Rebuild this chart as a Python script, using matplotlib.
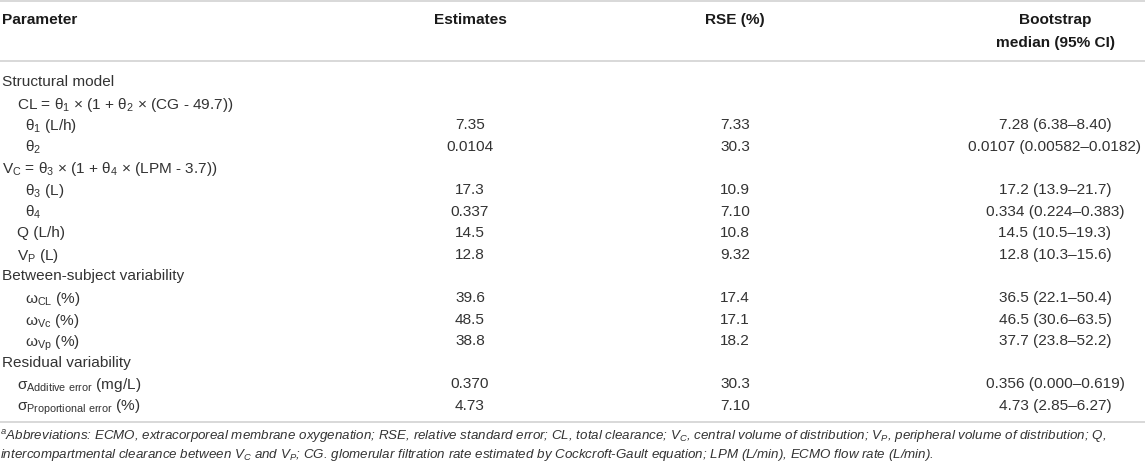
#!/usr/bin/env python3
"""Parameter estimates table (final PK model) drawn with matplotlib."""

import matplotlib
matplotlib.use("Agg")
import matplotlib.pyplot as plt

plt.rcParams["font.family"] = ["Liberation Sans", "DejaVu Sans"]
plt.rcParams["mathtext.default"] = "regular"

W, H = 1145, 467

HEADERS = ["Parameter", "Estimates", "RSE (%)", "Bootstrap\nmedian (95% CI)"]

PARAMS = [
    "Structural model",
    "CL = θ$_1$ × (1 + θ$_2$ × (CG - 49.7))",
    "θ$_1$ (L/h)",
    "θ$_2$",
    "V$_C$ = θ$_3$ × (1 + θ$_4$ × (LPM - 3.7))",
    "θ$_3$ (L)",
    "θ$_4$",
    "Q (L/h)",
    "V$_P$ (L)",
    "Between-subject variability",
    "ω$_{CL}$ (%)",
    "ω$_{Vc}$ (%)",
    "ω$_{Vp}$ (%)",
    "Residual variability",
    r"σ$_{Additive\ error}$ (mg/L)",
    r"σ$_{Proportional\ error}$ (%)",
]
INDENT = [0, 1, 2, 2, 0, 2, 2, 1, 1, 0, 2, 2, 2, 0, 1, 1]

ESTIMATES = ["", "", "7.35", "0.0104", "", "17.3", "0.337", "14.5", "12.8",
             "", "39.6", "48.5", "38.8", "", "0.370", "4.73"]
RSE = ["", "", "7.33", "30.3", "", "10.9", "7.10", "10.8", "9.32",
       "", "17.4", "17.1", "18.2", "", "30.3", "7.10"]
BOOTSTRAP = ["", "", "7.28 (6.38–8.40)", "0.0107 (0.00582–0.0182)", "",
             "17.2 (13.9–21.7)", "0.334 (0.224–0.383)", "14.5 (10.5–19.3)",
             "12.8 (10.3–15.6)", "", "36.5 (22.1–50.4)", "46.5 (30.6–63.5)",
             "37.7 (23.8–52.2)", "", "0.356 (0.000–0.619)", "4.73 (2.85–6.27)"]

FOOTNOTE = [
    "$^a$Abbreviations: ECMO, extracorporeal membrane oxygenation; RSE, relative standard error; "
    "CL, total clearance; V$_C$, central volume of distribution; V$_P$, peripheral volume of distribution; Q,",
    "intercompartmental clearance between V$_C$ and V$_P$; CG. glomerular filtration rate estimated by "
    "Cockcroft-Gault equation; LPM (L/min), ECMO flow rate (L/min).",
]

COL_X = [2, 470, 735, 1055]
INDENT_X = [2, 17, 25]
ROW_Y0, ROW_STEP = 80.5, 21.6
LINE_COLOR = "#d6d6d6"
TEXT_COLOR = "#333333"
FS = 11.1


def main():
    fig = plt.figure(figsize=(W / 100, H / 100), dpi=100)
    ax = fig.add_axes([0, 0, 1, 1])
    ax.set_xlim(0, W)
    ax.set_ylim(H, 0)
    ax.axis("off")

    for y in (0.8, 60.5, 421.5):
        ax.axhline(y, color=LINE_COLOR, lw=1.3)

    ax.text(COL_X[0], 20, HEADERS[0], ha="left", va="center", fontsize=FS,
            fontweight="bold", color="#1a1a1a")
    ax.text(COL_X[1], 20, HEADERS[1], ha="center", va="center", fontsize=FS,
            fontweight="bold", color="#1a1a1a")
    ax.text(COL_X[2], 20, HEADERS[2], ha="center", va="center", fontsize=FS,
            fontweight="bold", color="#1a1a1a")
    for i, part in enumerate(HEADERS[3].split("\n")):
        ax.text(COL_X[3], 20 + 23 * i, part, ha="center", va="center", fontsize=FS,
                fontweight="bold", color="#1a1a1a")

    for i, label in enumerate(PARAMS):
        y = ROW_Y0 + i * ROW_STEP
        ax.text(INDENT_X[INDENT[i]], y, label, ha="left", va="center_baseline",
                fontsize=FS, color=TEXT_COLOR)
        ax.text(COL_X[1], y, ESTIMATES[i], ha="center", va="center_baseline",
                fontsize=FS, color=TEXT_COLOR)
        ax.text(COL_X[2], y, RSE[i], ha="center", va="center_baseline",
                fontsize=FS, color=TEXT_COLOR)
        ax.text(COL_X[3], y, BOOTSTRAP[i], ha="center", va="center_baseline",
                fontsize=FS, color=TEXT_COLOR)

    for i, line in enumerate(FOOTNOTE):
        ax.text(0, 434 + 18.5 * i, line, ha="left", va="center_baseline",
                fontsize=9.6, fontstyle="italic", color=TEXT_COLOR)

    fig.savefig("out.png", dpi=100)
    plt.close(fig)


if __name__ == "__main__":
    main()
